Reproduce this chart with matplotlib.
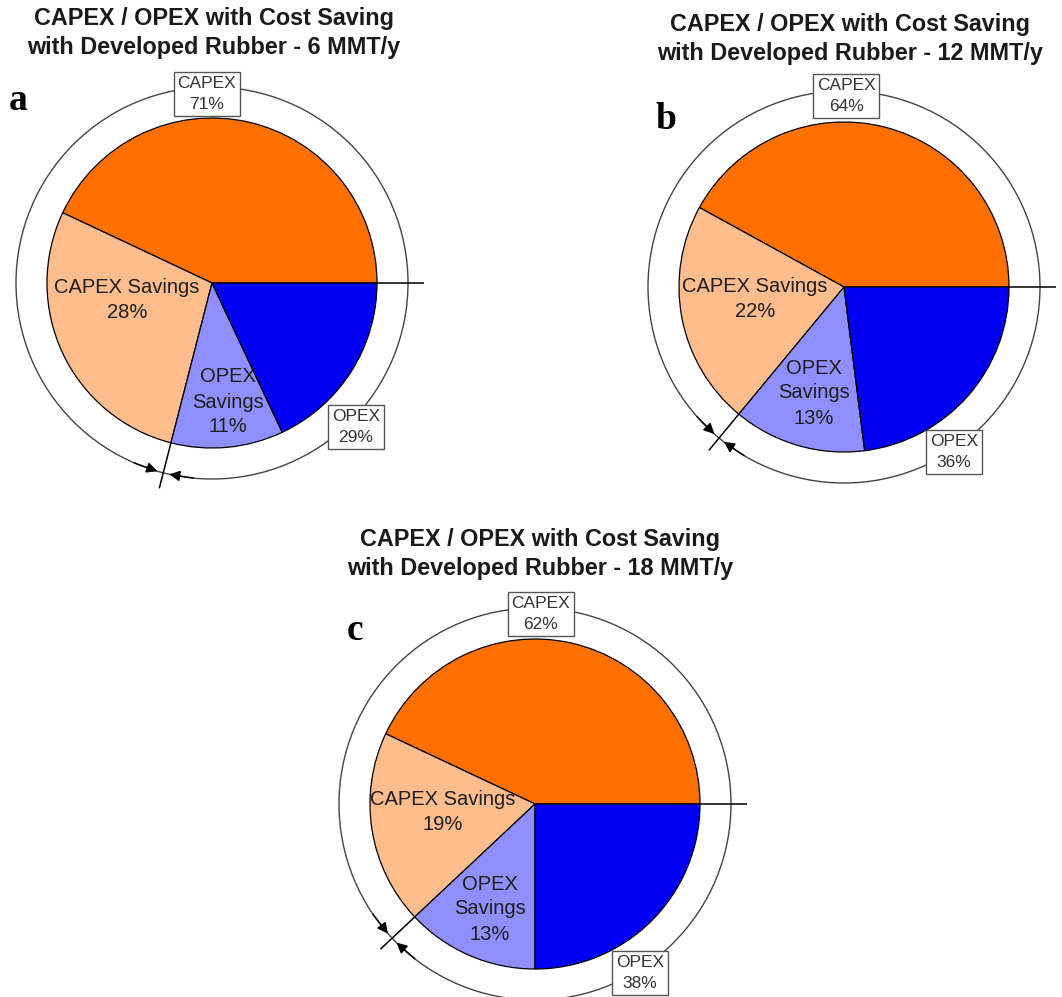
import numpy as np
import matplotlib
matplotlib.use("Agg")
import matplotlib.pyplot as plt
from matplotlib.patches import Circle

# ---------------- data ----------------
capacities = [6, 12, 18]                 # MMT/y
panel_letters = ["a", "b", "c"]
capex_total = [71, 64, 62]               # % of total cost
opex_total = [29, 36, 38]
capex_savings = [28, 22, 19]
opex_savings = [11, 13, 13]
slice_colors = ["#FF7000", "#FFBC8C", "#8F8FFF", "#0000F5"]

# ---------------- layout (pixels) ----------------
W, H = 1062, 997
centers = [(212, 283), (844, 287), (535, 804)]
pie_r = 165
ring_r = 196
tick_r = 212
title_pos = [(214, 33), (850, 39), (540, 554)]
letter_pos = [(18, 101), (666, 120), (355, 630)]
cs_label_off = [(-85, 17), (-89, 12), (-92, 8)]
os_label_off = [(16, 119), (-30, 106), (-45, 105)]
capex_box_off = [(-5, -189), (2, -191), (6, -190)]
opex_box_off = [(144, 144), (110, 165), (105, 169)]

SANS = ["Liberation Sans", "DejaVu Sans"]
SERIF = ["Liberation Serif", "DejaVu Serif"]

fig = plt.figure(figsize=(W / 100, H / 100), dpi=100)
ax = fig.add_axes([0, 0, 1, 1])


def P(x, y):
    return x, H - y


for i in range(3):
    cx, cy = P(*centers[i])
    values = [capex_total[i] - capex_savings[i], capex_savings[i],
              opex_savings[i], opex_total[i] - opex_savings[i]]
    ax.pie(values, colors=slice_colors, startangle=0, counterclock=True,
           center=(cx, cy), radius=pie_r, frame=True,
           wedgeprops=dict(edgecolor="black", linewidth=0.9))

    # outer ring
    ax.add_patch(Circle((cx, cy), ring_r, fill=False, ec="#444444", lw=1.0, zorder=3))

    # ticks at 0 deg and CAPEX/OPEX boundary
    th_c = np.deg2rad(360.0 * capex_total[i] / 100.0)
    for th in (0.0, th_c):
        ax.plot([cx + pie_r * np.cos(th), cx + tick_r * np.cos(th)],
                [cy + pie_r * np.sin(th), cy + tick_r * np.sin(th)],
                color="black", lw=1.1, zorder=4, solid_capstyle="butt")

    # arrowheads on both sides of the boundary tick
    for sgn in (-1, 1):
        tip = th_c + sgn * np.deg2rad(1.8)
        tail = th_c + sgn * np.deg2rad(9.0)
        ax.annotate("", xy=(cx + ring_r * np.cos(tip), cy + ring_r * np.sin(tip)),
                    xytext=(cx + ring_r * np.cos(tail), cy + ring_r * np.sin(tail)),
                    arrowprops=dict(arrowstyle="-|>", color="black", lw=1.0,
                                    mutation_scale=16, shrinkA=0, shrinkB=0),
                    zorder=5)

    # inner labels
    dx, dy = cs_label_off[i]
    ax.text(cx + dx, cy - dy, f"CAPEX Savings\n{capex_savings[i]}%",
            ha="center", va="center", fontsize=14.5, color="#1e1e1e",
            family=SANS, linespacing=1.4, zorder=6)
    dx, dy = os_label_off[i]
    ax.text(cx + dx, cy - dy, f"OPEX\nSavings\n{opex_savings[i]}%",
            ha="center", va="center", fontsize=14.5, color="#1e1e1e",
            family=SANS, linespacing=1.4, zorder=6)

    # boxed totals
    box = dict(boxstyle="square,pad=0.22", fc="white", ec="#555555", lw=1.0)
    dx, dy = capex_box_off[i]
    ax.text(cx + dx, cy - dy, f"CAPEX\n{capex_total[i]}%", ha="center", va="center",
            fontsize=12.5, color="#333333", family=SANS, linespacing=1.45,
            bbox=box, zorder=7)
    dx, dy = opex_box_off[i]
    ax.text(cx + dx, cy - dy, f"OPEX\n{opex_total[i]}%", ha="center", va="center",
            fontsize=12.5, color="#333333", family=SANS, linespacing=1.45,
            bbox=box, zorder=7)

    # title
    tx, ty = P(*title_pos[i])
    ax.text(tx, ty, f"CAPEX / OPEX with Cost Saving\nwith Developed Rubber - {capacities[i]} MMT/y",
            ha="center", va="center", fontsize=16.8, fontweight="bold",
            color="#1a1a1a", family=SANS, linespacing=1.3)

    # panel letter
    lx, ly = P(*letter_pos[i])
    ax.text(lx, ly, panel_letters[i], ha="center", va="center", fontsize=27,
            fontweight="bold", family=SERIF, color="black")

ax.set_xlim(0, W)
ax.set_ylim(0, H)
ax.set_aspect("equal")
ax.axis("off")
fig.savefig("out.png", dpi=100, facecolor="white")
